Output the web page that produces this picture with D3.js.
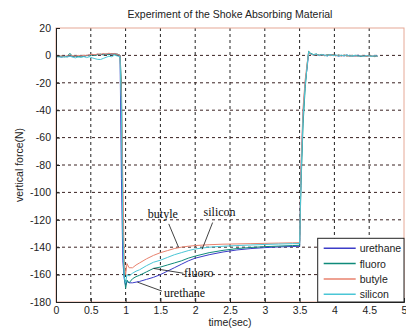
<!DOCTYPE html>
<html>
<head>
<meta charset="utf-8">
<script src="https://cdn.jsdelivr.net/npm/d3@7"></script>
<style>
  body { margin: 0; background: #fff; }
  svg { display: block; font-family: "Liberation Sans", Arial, sans-serif; }
  .axis text { font-size: 10px; fill: #222; }
  .axis path, .axis line { stroke: #222; }
  .note { font-family: "Liberation Serif", "Times New Roman", serif; font-size: 12px; fill: #111; }
</style>
</head>
<body>
<div id="chart"></div>
<script>
// sample times (sec)
var time = [0, 0.04, 0.08, 0.12, 0.16, 0.2, 0.24, 0.28, 0.32, 0.36, 0.4, 0.44, 0.48, 0.52, 0.56, 0.6, 0.64, 0.68, 0.72, 0.76, 0.8, 0.84, 0.88, 0.92,
  0.94, 0.96, 0.98, 1.0, 1.02, 1.05, 1.1, 1.15, 1.2, 1.3, 1.4, 1.5, 1.6, 1.7, 1.8, 1.9, 2.0, 2.2, 2.4, 2.6, 2.8, 3.0, 3.2, 3.4, 3.5,
  3.52, 3.55, 3.58, 3.61, 3.63,
  3.66, 3.7, 3.74, 3.78, 3.82, 3.86, 3.9, 3.94, 3.98, 4.02, 4.06, 4.1, 4.14, 4.18, 4.22, 4.26, 4.3, 4.34, 4.38, 4.42, 4.46, 4.5, 4.54, 4.58, 4.62];

var urethane = [-1, -0.8, -1.2, -0.6, -1, -0.4, -0.9, -0.5, -0.8, -0.3, -0.6, -0.2, 0.3, 0.6, 0.2, 0.8, 0.4, 1, 0.5, 1.2, 0.8, 1.4, 0.6, 0,
  -90, -150, -163, -168, -165, -166, -166, -165.5, -165, -163.5, -162, -160, -157.5, -155, -152.5, -150, -148, -145.5, -143.5, -142, -141, -140.3, -139.8, -139.5, -139.3,
  -85, -42, -20, -8, 2,
  1, 0.4, 0.8, -0.2, 0.5, 0.1, -0.3, 0.4, -0.2, 0.2, -0.5, 0, -0.4, 0.3, -0.6, -0.1, -0.5, 0.2, -0.7, -0.2, -0.6, -0.1, -0.8, -0.3, -0.5];

var fluoro = [-0.6, -1, -0.5, -1.1, -0.7, 1.5, -0.8, -0.4, -1, -0.5, -0.7, 0, -0.4, 0.5, -0.2, 0.6, 1, 0.3, 1.1, 0.5, 1.3, 0.7, 1, 0,
  -20, -120, -160, -170, -164, -166, -163, -161.5, -160.5, -158, -155.5, -154.5, -153, -151.5, -150, -148, -146.5, -144, -142.3, -141, -140.2, -139.6, -139.2, -138.8, -138.6,
  -95, -50, -24, -6, 3,
  1.5, 0.6, 1, 0.2, 0.7, -0.1, 0.5, 0.1, 0.6, -0.2, 0.3, -0.3, 0.2, -0.5, 0.1, -0.6, 0, -0.4, -0.8, -0.2, -0.7, 0, -0.5, -0.9, -0.6];

var butyle = [-0.5, -0.7, -0.4, -0.8, -0.3, -0.6, -0.2, -0.5, 0, -0.4, 0.2, -0.1, 0.5, 0.8, 0.4, 1.1, 0.7, 1.4, 0.9, 1.6, 1.1, 1.3, 0.8, 0,
  -30, -90, -150, -160, -152, -155, -155, -153, -151.5, -148.5, -146, -144, -142.5, -141, -140, -139.3, -138.8, -138.2, -137.8, -137.6, -137.4, -137.2, -137, -136.8, -136.7,
  -80, -38, -18, -5, 1.5,
  0.8, 0.2, 0.6, 0, 0.4, -0.3, 0.2, -0.2, 0.5, -0.4, 0.1, -0.5, 0.3, -0.3, -0.6, 0, -0.4, -0.7, -0.2, -0.5, -0.8, -0.3, -0.6, -0.4, -0.7];

var silicon = [-1.2, -0.8, -1.4, -0.9, -1.2, -0.6, -1.3, -1.8, -1.1, -1.5, -0.9, -1.6, -1, -1.8, -2.4, -2.9, -3, -2.2, -1.4, -0.6, -1, 0.2, -0.4, -1,
  -40, -130, -162, -166, -160, -161, -159, -157.5, -156.5, -153.5, -151, -149.5, -147.5, -145.5, -144, -142.5, -141.3, -140, -139.3, -138.8, -138.4, -138, -137.7, -137.4, -137.3,
  -90, -45, -22, -7, 2.5,
  1.2, 0.3, 0.9, -0.1, 0.6, 0, -0.4, 0.5, -0.2, 0.3, -0.6, 0.2, -0.3, 0.4, -0.5, -0.2, 0.1, -0.6, -0.3, -0.8, -0.1, -0.5, -0.7, -0.2, -0.6];

var seriesNames = ["urethane", "fluoro", "butyle", "silicon"];
var seriesColors = ["#3c3cc8", "#0f8a7a", "#e8826e", "#4ac6d6"];
var xTicks = [0, 0.5, 1, 1.5, 2, 2.5, 3, 3.5, 4, 4.5, 5];
var yTicks = [20, 0, -20, -40, -60, -80, -100, -120, -140, -160, -180];

// annotation labels: text, label position (data), pointer end (data)
var notes = [
  { text: "butyle", lx: 1.32, ly: -119, x0: 1.62, y0: -123, x1: 1.76, y1: -140 },
  { text: "silicon", lx: 2.12, ly: -117, x0: 2.25, y0: -122, x1: 2.1, y1: -141.5 },
  { text: "fluoro", lx: 1.84, ly: -162, x0: 1.83, y0: -159, x1: 1.4, y1: -155.5 },
  { text: "urethane", lx: 1.55, ly: -176, x0: 1.52, y0: -172, x1: 1.17, y1: -165.5 }
];

function init() {
  var W = 406, H = 331;
  var margin = { top: 28, right: 2, bottom: 29, left: 56 };
  var w = W - margin.left - margin.right;
  var h = H - margin.top - margin.bottom;

  var svg = d3.select("#chart").append("svg").attr("width", W).attr("height", H);
  var g = svg.append("g").attr("transform", "translate(" + margin.left + "," + margin.top + ")");

  var x = d3.scaleLinear().domain([0, 5]).range([0, w]);
  var y = d3.scaleLinear().domain([-180, 20]).range([h, 0]);

  // grid
  g.append("g").selectAll("line").data(xTicks.slice(1, -1)).join("line")
    .attr("x1", d => x(d)).attr("x2", d => x(d)).attr("y1", 0).attr("y2", h)
    .attr("stroke", "#222").attr("stroke-dasharray", "3,3");
  g.append("g").selectAll("line").data(yTicks.slice(1, -1)).join("line")
    .attr("x1", 0).attr("x2", w).attr("y1", d => y(d)).attr("y2", d => y(d))
    .attr("stroke", "#3a2222").attr("stroke-dasharray", "3,3");

  // curves
  var line = d3.line().x((d, i) => x(time[i])).y(d => y(d));
  [urethane, fluoro, butyle, silicon].forEach(function (vals, k) {
    g.append("path").datum(vals).attr("d", line)
      .attr("fill", "none").attr("stroke", seriesColors[k]).attr("stroke-width", 1);
  });

  // box
  g.append("rect").attr("width", w).attr("height", h)
    .attr("fill", "none").attr("stroke", "#e6a896").attr("stroke-width", 1);

  // axes (plain hyphen minus like the original)
  var fmt = d => String(d);
  g.append("g").attr("class", "axis").attr("transform", "translate(0," + h + ")")
    .call(d3.axisBottom(x).tickValues(xTicks).tickSize(-4).tickPadding(5).tickFormat(fmt))
    .call(s => s.select(".domain").attr("stroke", "#222"));
  g.append("g").attr("class", "axis")
    .call(d3.axisLeft(y).tickValues(yTicks).tickSize(-4).tickPadding(5).tickFormat(fmt))
    .call(s => s.select(".domain").attr("stroke", "#222"));
  g.selectAll(".axis text").style("font-size", "10.5px");

  // annotations
  notes.forEach(function (n) {
    g.append("line").attr("x1", x(n.x0)).attr("y1", y(n.y0)).attr("x2", x(n.x1)).attr("y2", y(n.y1))
      .attr("stroke", "#111").attr("stroke-width", 0.8);
    g.append("text").attr("class", "note").attr("x", x(n.lx)).attr("y", y(n.ly)).text(n.text);
  });

  // legend
  var legend = g.append("g").attr("transform", "translate(" + (x(3.76)) + "," + (y(-133.5)) + ")");
  var lw = w - x(3.76), lh = h - y(-133.5);
  legend.append("rect").attr("width", lw).attr("height", lh)
    .attr("fill", "#fff").attr("stroke", "#222").attr("stroke-width", 1);
  seriesNames.forEach(function (name, i) {
    var yy = 10 + i * 15.3;
    legend.append("line").attr("x1", 6).attr("x2", 38).attr("y1", yy).attr("y2", yy)
      .attr("stroke", seriesColors[i]).attr("stroke-width", 1.5);
    legend.append("text").attr("x", 42).attr("y", yy + 4).style("font-size", "10.5px").attr("fill", "#222").text(name);
  });

  // title and labels
  svg.append("text").attr("x", margin.left + w / 2).attr("y", 18).attr("text-anchor", "middle")
    .style("font-size", "10.5px").attr("fill", "#222").text("Experiment of the Shoke Absorbing Material");
  svg.append("text").attr("transform", "rotate(-90)").attr("x", -(margin.top + h / 2)).attr("y", 23)
    .attr("text-anchor", "middle").style("font-size", "10.5px").attr("fill", "#222").text("vertical force(N)");
  svg.append("text").attr("x", margin.left + w / 2).attr("y", 326).attr("text-anchor", "middle")
    .style("font-size", "10.5px").attr("fill", "#222").text("time(sec)");
}

window.onload = init;
</script>
</body>
</html>
